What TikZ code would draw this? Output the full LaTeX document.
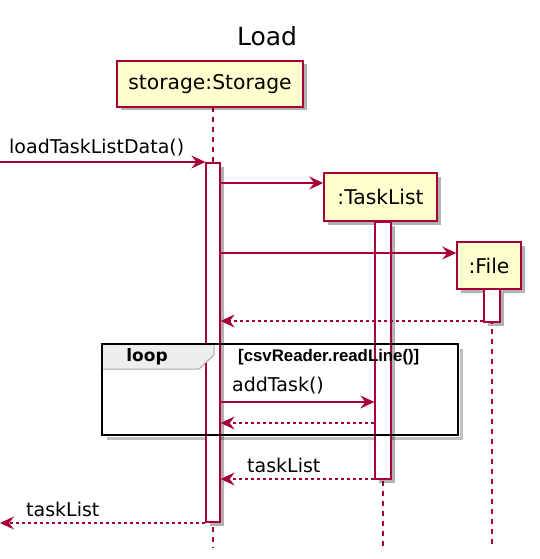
\documentclass[tikz,border=0pt]{standalone}
\usepackage{fontspec}
\setmainfont{DejaVu Sans}
\newfontfamily\condfont{Liberation Sans}
\usetikzlibrary{arrows.meta,shadows}
\definecolor{pred}{HTML}{A80036}
\definecolor{pfill}{HTML}{FEFECE}
\definecolor{tabgray}{HTML}{EEEEEE}
\begin{document}
\begin{tikzpicture}[x=1pt,y=-1pt,
  shd/.style={drop shadow={shadow xshift=3.5pt,shadow yshift=-3.5pt,opacity=0.3,fill=black}},
  part/.style={draw=pred,line width=1.5pt,fill=pfill,shd,inner sep=0pt,
    font=\fontsize{20.3}{24}\selectfont},
  actbar/.style={draw=pred,line width=1.3pt,fill=white,shd,inner sep=0pt,minimum width=14pt},
  lifeline/.style={draw=pred,line width=1.1pt,dash pattern=on 5pt off 5pt},
  msg/.style={draw=pred,line width=1.2pt,-{Stealth[length=14pt,width=13pt,inset=5pt]}},
  ret/.style={msg,dash pattern=on 3pt off 3pt},
  lbl/.style={font=\fontsize{19}{22}\selectfont,anchor=west,inner sep=0pt}]
\useasboundingbox (0,0) rectangle (540,559);
\fill[white] (0,0) rectangle (540,559);
% title
\node[font=\fontsize{25}{30}\selectfont] (title) at (267,36) {Load};
% lifelines
\coordinate (send) at (213,548);
\coordinate (tend) at (383,548);
\coordinate (fend) at (492,548);
\coordinate (stop) at (213,107);
\coordinate (ttop) at (383,221);
\coordinate (ftop) at (492,289);
\draw[lifeline] (stop) -- (send);
\draw[lifeline] (ttop) -- (tend);
\draw[lifeline] (ftop) -- (fend);
% participants
\node[part,minimum width=186pt,minimum height=46pt] (st) at (210,84) {storage:Storage};
\node[part,minimum width=113pt,minimum height=48pt] (tl) at (380.5,197) {:TaskList};
\node[part,minimum width=64pt,minimum height=47pt] (fi) at (489,265.5) {:File};
% loop frame shadow
\draw[black,opacity=0.25,line width=3pt] (461,349) -- (461,438) -- (107,438);
\node[actbar,minimum height=359pt] (sbar) at (213,342.5) {};
\node[actbar,minimum width=16pt,minimum height=257pt] (tbar) at (383,350.5) {};
\node[actbar,minimum width=16pt,minimum height=33pt] (fbar) at (492,305.5) {};
\draw[draw=gray!70,line width=1pt,fill=tabgray] (102,344) -- (214,344) -- (214,355) -- (199,369) -- (102,369) -- cycle;
\draw[black,line width=2.2pt] (102,344) rectangle (458,435);
\node[font=\bfseries\fontsize{17}{20}\selectfont] (looplbl) at (147,357) {loop};
\node[font=\condfont\bfseries\fontsize{16.8}{19}\selectfont,anchor=west,inner sep=0pt] (cond) at (238,357) {[csvReader.readLine()]};
% messages
\coordinate (start) at (0,162);
\draw[msg] (start) -- (sbar.west |- start);
\node[lbl] (m1) at (9,148) {loadTaskListData()};
\draw[msg] (sbar.east |- 0,183) -- (tl.west |- 0,183);
\draw[msg] (sbar.east |- 0,253) -- (fi.west |- 0,253);
\draw[ret] (fbar.west |- 0,321) -- (sbar.east |- 0,321);
\draw[msg] (sbar.east |- 0,402) -- (tbar.west |- 0,402);
\node[lbl] (m2) at (232,386) {addTask()};
\draw[ret] (tbar.west |- 0,423) -- (sbar.east |- 0,423);
\draw[ret] (tbar.west |- 0,479) -- (sbar.east |- 0,479);
\node[lbl] (m3) at (247,465) {taskList};
\coordinate (endl) at (0,523);
\draw[ret] (sbar.west |- endl) -- (endl);
\node[lbl] (m4) at (26,509) {taskList};
\end{tikzpicture}
\end{document}
